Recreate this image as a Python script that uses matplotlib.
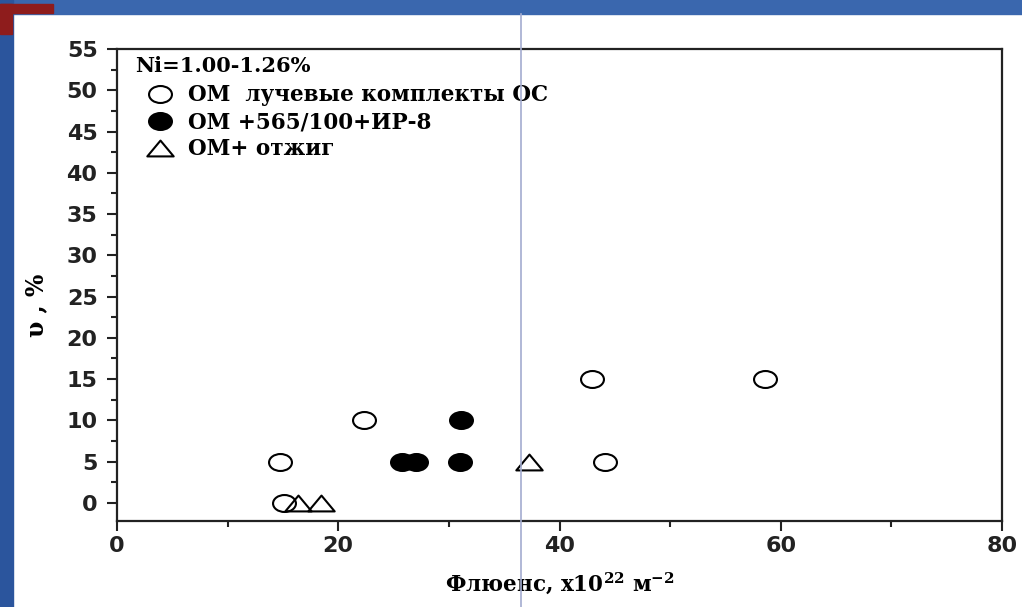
import numpy as np
import matplotlib
matplotlib.use("Agg")
import matplotlib.pyplot as plt
from matplotlib.path import Path
from matplotlib.patches import Rectangle
from matplotlib.lines import Line2D

plt.rcParams['mathtext.default'] = 'regular'

# data
open_x = [14.7, 15.1, 22.3, 42.9, 44.1, 58.6]
open_y = [5, 0, 10, 15, 5, 15]
filled_x = [25.8, 27.0, 31.1, 31.0]
filled_y = [5, 5, 10, 5]
tri_x = [16.4, 18.4, 37.2]
tri_y = [0, 0, 5]

labels = ['ОМ  лучевые комплекты ОС', 'ОМ +565/100+ИР-8', 'ОМ+ отжиг']
legend_title = 'Ni=1.00-1.26%'

# stretched markers (the slide image is squashed vertically)
circ = Path.unit_circle()
oval = Path(circ.vertices * np.array([1.0, 0.74]), circ.codes)
tri = Path([(0, 0.6), (-1, -0.6), (1, -0.6), (0, 0.6)],
           [Path.MOVETO, Path.LINETO, Path.LINETO, Path.CLOSEPOLY])

fig = plt.figure(figsize=(10.22, 6.07), dpi=100, facecolor='white')

# slide decoration
fig.patches.append(Rectangle((0, 1 - 14/607), 1, 14/607, transform=fig.transFigure,
                             color='#3a67ae', zorder=0))
fig.patches.append(Rectangle((0, 0), 13/1022, 1, transform=fig.transFigure,
                             color='#2b559d', zorder=0))
fig.patches.append(Rectangle((0, 1 - 13/607), 53/1022, 9/607, transform=fig.transFigure,
                             color='#8e1c1c', zorder=1))
fig.patches.append(Rectangle((0, 1 - 34/607), 12/1022, 30/607, transform=fig.transFigure,
                             color='#8e1c1c', zorder=1))

ax = fig.add_axes([117/1022, 86/607, 885/1022, 472/607])
ax.set_facecolor('none')

ax.plot(open_x, open_y, linestyle='none', marker=oval, markersize=16.5,
        markerfacecolor='white', markeredgecolor='black', markeredgewidth=1.5)
ax.plot(filled_x, filled_y, linestyle='none', marker=oval, markersize=16.5,
        markerfacecolor='black', markeredgecolor='black', markeredgewidth=1.5)
ax.plot(tri_x, tri_y, linestyle='none', marker=tri, markersize=19,
        markerfacecolor='none', markeredgecolor='black', markeredgewidth=1.5)

ax.set_xlim(0, 80)
ax.set_ylim(-2.2, 55)
ax.set_xticks([0, 20, 40, 60, 80])
ax.set_xticks([10, 30, 50, 70], minor=True)
ax.set_yticks(np.arange(0, 56, 5))
ax.set_yticks(np.arange(2.5, 55, 5), minor=True)

for s in ax.spines.values():
    s.set_linewidth(1.6)
    s.set_color('#222222')
ax.tick_params(which='major', direction='out', length=7, width=1.5, color='#222222')
ax.tick_params(axis='y', which='major', pad=7)
ax.tick_params(which='minor', direction='out', length=4, width=1.5, color='#222222')
for lab in ax.get_xticklabels() + ax.get_yticklabels():
    lab.set_fontfamily('DejaVu Sans')
    lab.set_fontweight('bold')
    lab.set_fontsize(16)
    lab.set_color('#222222')

ax.set_xlabel('Флюенс, x10$^{22}$ м$^{-2}$', family='DejaVu Serif',
              fontweight='bold', fontsize=15.5, labelpad=11)
fig.text(36/1022, 1 - 305/607, 'υ , %', rotation=90, family='DejaVu Serif',
         fontweight='bold', fontsize=17, ha='center', va='center')

handles = [
    Line2D([], [], linestyle='none', marker=oval, markersize=16.5,
           markerfacecolor='white', markeredgecolor='black', markeredgewidth=1.5),
    Line2D([], [], linestyle='none', marker=oval, markersize=16.5,
           markerfacecolor='black', markeredgecolor='black', markeredgewidth=1.5),
    Line2D([], [], linestyle='none', marker=tri, markersize=19,
           markerfacecolor='none', markeredgecolor='black', markeredgewidth=1.5),
]
ax.text(0.0203, 0.964, legend_title, transform=ax.transAxes, ha='left', va='center',
        family='DejaVu Serif', fontweight='bold', fontsize=15)
leg = ax.legend(handles, labels, loc='upper left',
                bbox_to_anchor=(0.017, 0.9254), frameon=False,
                prop={'family': 'DejaVu Serif', 'weight': 'bold', 'size': 15.5},
                handlelength=2.6, handletextpad=0.0, labelspacing=0.23,
                borderaxespad=0.0, borderpad=0.0)

# thin guide line across the slide
fig.add_artist(Line2D([521/1022, 521/1022], [0, 1 - 14/607], transform=fig.transFigure,
                      color='#a3acd0', linewidth=1.2, zorder=5))

fig.savefig('out.png', dpi=100, facecolor='white')
